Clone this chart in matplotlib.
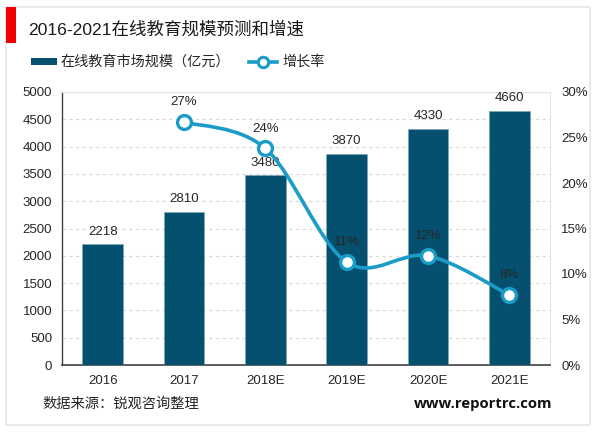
import matplotlib
matplotlib.use('Agg')
import matplotlib.pyplot as plt
from matplotlib.patches import Rectangle, PathPatch
from matplotlib.path import Path
from matplotlib.lines import Line2D

plt.rcParams['font.family'] = ['Liberation Sans', 'Noto Sans CJK SC', 'DejaVu Sans']

categories = ['2016', '2017', '2018E', '2019E', '2020E', '2021E']
market_size = [2218, 2810, 3480, 3870, 4330, 4660]
growth_x = [1, 2, 3, 4, 5]
growth_rate = [26.7, 23.8, 11.3, 12.0, 7.7]
growth_labels = ['27%', '24%', '11%', '12%', '8%']
title = '2016-2021在线教育规模预测和增速'
bar_legend = '在线教育市场规模（亿元）'
line_legend = '增长率'
source = '数据来源：锐观咨询整理'
site = 'www.reportrc.com'

W, H = 600, 433
BAR = '#04506E'
LINE = '#1A9CC8'
TXT = '#262626'

fig = plt.figure(figsize=(W / 100, H / 100), dpi=100, facecolor='white')
bg = fig.add_axes([0, 0, 1, 1])
bg.set_xlim(0, W); bg.set_ylim(H, 0); bg.axis('off')
bg.add_patch(Rectangle((6, 7), 584, 418, fc='white', ec='#E6E6E6', lw=1.2))
bg.add_patch(Rectangle((6, 7), 10, 36, fc='#F00000', ec='none'))
bg.text(28, 29, title, fontsize=12.6, color='#1a1a1a', va='center', ha='left')

bg.add_patch(Rectangle((31, 58), 26, 7, fc=BAR, ec='none'))
bg.text(60, 62, bar_legend, fontsize=10.2, color=TXT, va='center', ha='left')
bg.add_line(Line2D([249, 277], [62, 62], color=LINE, lw=2.6))
bg.add_line(Line2D([263], [62], ls='none', marker='o', ms=7.5,
                   mfc='white', mec=LINE, mew=2.2))
bg.text(282, 62, line_legend, fontsize=10.2, color=TXT, va='center', ha='left')
bg.text(42, 404, source, fontsize=10.3, color=TXT, va='center', ha='left')
bg.text(552, 404, site, fontsize=10.7, color='#111111', va='center', ha='right',
        fontweight='bold', family=['Open Sans', 'DejaVu Sans'])

L, R, T, B = 62, 550, 92, 365
ax = fig.add_axes([L / W, 1 - B / H, (R - L) / W, (B - T) / H])
ax.patch.set_alpha(0)
x = list(range(len(categories)))
ax.bar(x, market_size, width=0.5, color=BAR, edgecolor='#7FA6B6', linewidth=0.4, zorder=3)
ax.set_xlim(-0.5, 5.5)
ax.set_ylim(0, 5000)
ax.set_yticks(range(0, 5001, 500))
ax.set_xticks(x, categories)
ax.grid(axis='y', color='#D9D9D9', ls=(0, (3, 3)), lw=0.8, zorder=0)
ax.tick_params(axis='both', length=0, labelsize=9.5, labelcolor=TXT)
ax.tick_params(axis='x', pad=7.5)
ax.tick_params(axis='y', pad=7)
for s in ['top', 'right']:
    ax.spines[s].set_color('#E3E3E3')
ax.spines['left'].set_color('#404040'); ax.spines['left'].set_linewidth(1)
ax.spines['bottom'].set_color('#404040'); ax.spines['bottom'].set_linewidth(1.2)
for xi, v in zip(x, market_size):
    ax.annotate(str(v), (xi, v), xytext=(0, 4.5), textcoords='offset points',
                ha='center', va='bottom', fontsize=9.5, color=TXT, zorder=6)

ax2 = ax.twinx()
ax2.set_ylim(0, 30)
ax2.set_yticks(range(0, 31, 5), [f'{v}%' for v in range(0, 31, 5)])
ax2.tick_params(axis='y', length=0, labelsize=9.5, labelcolor=TXT, pad=8)
for s in ax2.spines.values():
    s.set_visible(False)

# smoothed connection between the data points (spreadsheet-style Catmull-Rom)
verts = [(growth_x[0], growth_rate[0])]
codes = [Path.MOVETO]
n = len(growth_x)
pts = list(zip(growth_x, growth_rate))
for i in range(n - 1):
    p0 = pts[max(i - 1, 0)]; p1 = pts[i]; p2 = pts[i + 1]; p3 = pts[min(i + 2, n - 1)]
    c1 = (p1[0] + (p2[0] - p0[0]) / 6, p1[1] + (p2[1] - p0[1]) / 6)
    c2 = (p2[0] - (p3[0] - p1[0]) / 6, p2[1] - (p3[1] - p1[1]) / 6)
    verts += [c1, c2, p2]
    codes += [Path.CURVE4] * 3
ax2.add_patch(PathPatch(Path(verts, codes), fc='none', ec=LINE, lw=2.6, zorder=4))
ax2.plot(growth_x, growth_rate, ls='none', marker='o', ms=10, mfc='white', mec=LINE,
         mew=2.4, zorder=5)
for xi, v, lab in zip(growth_x, growth_rate, growth_labels):
    ax2.annotate(lab, (xi, v), xytext=(0, 10), textcoords='offset points', ha='center',
                 va='bottom', fontsize=9.5, color=TXT, zorder=6)

fig.savefig('out.png', dpi=100)
